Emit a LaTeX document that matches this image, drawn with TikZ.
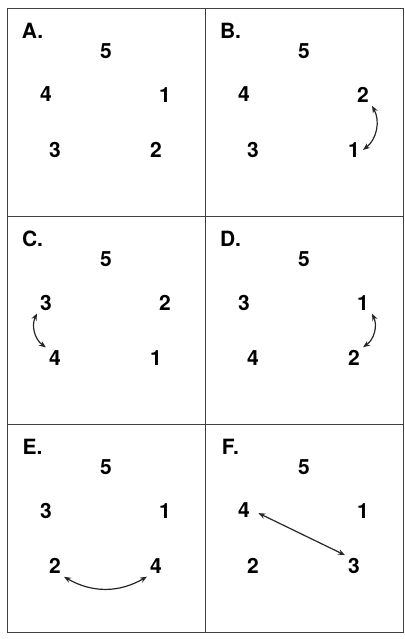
\documentclass[tikz,border=0pt]{standalone}
\usepackage{fontspec}
\setmainfont{TeX Gyre Heros}
\usepackage{tikz}
\usetikzlibrary{arrows.meta}

\begin{document}
\begin{tikzpicture}[x=1pt,y=-1pt,
  num/.style={font=\fontsize{21}{25}\selectfont\bfseries,inner sep=3pt},
  swap/.style={{Stealth[length=7pt,width=5.5pt]}-{Stealth[length=7pt,width=5.5pt]},line width=1.2pt,black!85}]
\useasboundingbox (0,0) rectangle (404,639);
% frame and panels
\draw[black!75,line width=0.9pt] (7,8) rectangle (403,632);
\draw[black!75,line width=0.9pt] (205,8) -- (205,632);
\draw[black!75,line width=0.9pt] (7,216) -- (403,216);
\draw[black!75,line width=0.9pt] (7,424) -- (403,424);
% panel / x / y / upper left / upper right / lower left / lower right
\foreach \p/\ox/\oy/\ul/\ur/\ll/\lr in {A/7/8/4/1/3/2,B/205/8/4/2/3/1,
    C/7/216/3/2/4/1,D/205/216/3/1/4/2,E/7/424/3/1/2/4,F/205/424/4/1/2/3}{
  \node[num] (\p lab) at (\ox+25.5,\oy+22.5) {\p.};
  \node[num] (\p5) at (\ox+99,\oy+43) {5};
  \node[num] (\p\ul) at (\ox+39,\oy+86.5) {\ul};
  \node[num] (\p\ur) at (\ox+158,\oy+87) {\ur};
  \node[num] (\p\ll) at (\ox+48,\oy+142) {\ll};
  \node[num] (\p\lr) at (\ox+149,\oy+142) {\lr};
}
% exchanges
\draw[swap] (B2.south east) to[bend left=40] (B1.east);
\draw[swap] (C3.south west) to[bend right=40] (C4.north west);
\draw[swap] (D1.south east) to[bend left=40] (D2.north east);
\draw[swap] (E2.south east) to[bend right=30] (E4.south west);
\draw[swap,shorten <=6pt] (F4.east) -- (F3.north west);
\end{tikzpicture}
\end{document}
